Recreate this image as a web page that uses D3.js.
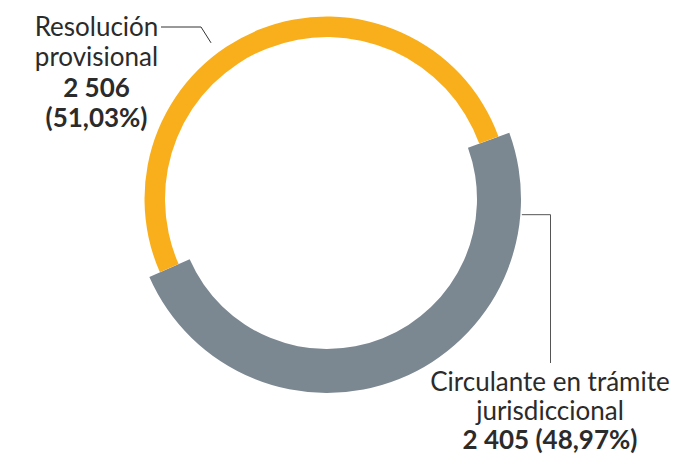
<!DOCTYPE html>
<html>
<head>
<meta charset="utf-8">
<script src="https://cdn.jsdelivr.net/npm/d3@7"></script>
<style>
  html, body { margin: 0; padding: 0; background: #fff; }
  svg { display: block; }
  text { font-family: Lato, 'Open Sans', sans-serif; fill: #2b2b2b; }
</style>
</head>
<body>
<svg id="chart" width="676" height="456"></svg>
<script>
const categories = ['Circulante en trámite jurisdiccional', 'Resolución provisional']
const values = [2405, 2506]
const valueLabels = ['2 405', '2 506']
const pctLabels = ['(48,97%)', '(51,03%)']
const colors = ['#7b8791', '#f9af1b']

const WIDTH = 676
const HEIGHT = 456
const CX = 327
const CY = 199
const START_DEG = 70

// each slice has its own ring thickness
const ringRadii = [
  { inner: 150, outer: 194 },
  { inner: 162, outer: 182.5 }
]

const deg = (d) => d * Math.PI / 180

const svg = d3.select('#chart')
const g = svg.append('g').attr('transform', `translate(${CX},${CY})`)

const pie = d3.pie()
  .sort(null)
  .value((d) => d)
  .startAngle(deg(START_DEG))
  .endAngle(deg(START_DEG + 360))

const arcs = pie(values)

g.selectAll('.slice')
  .data(arcs)
  .enter()
  .append('path')
  .attr('class', 'slice')
  .attr('fill', (d, i) => colors[i])
  .attr('d', (d, i) => {
    return d3.arc()
      .innerRadius(ringRadii[i].inner)
      .outerRadius(ringRadii[i].outer)(d)
  })

// point on a circle, angle measured clockwise from 12 o'clock
const polar = (angleDeg, r) => {
  const a = deg(angleDeg)
  return [CX + r * Math.sin(a), CY - r * Math.cos(a)]
}

// leader for "Resolución provisional"
const topEnd = polar(-36.6, 194.5)
const topPath = d3.path()
topPath.moveTo(161, 27)
topPath.lineTo(topEnd[0] - 10, 27)
topPath.lineTo(topEnd[0], topEnd[1])
svg.append('path')
  .attr('d', topPath.toString())
  .attr('fill', 'none')
  .attr('stroke', '#333')
  .attr('stroke-width', 1)

// leader for "Circulante en trámite jurisdiccional"
const rightStart = polar(94.6, 195.5)
const rightPath = d3.path()
rightPath.moveTo(rightStart[0], rightStart[1])
rightPath.lineTo(550.5, rightStart[1])
rightPath.lineTo(550.5, 363)
svg.append('path')
  .attr('d', rightPath.toString())
  .attr('fill', 'none')
  .attr('stroke', '#555')
  .attr('stroke-width', 1)

const FONT_SIZE = 26

const addLabel = (x, y, lines) => {
  const t = svg.append('text')
    .attr('x', x)
    .attr('y', y)
    .attr('text-anchor', 'middle')
    .style('font-size', `${FONT_SIZE}px`)
  lines.forEach((line, i) => {
    t.append('tspan')
      .attr('x', x)
      .attr('dy', i === 0 ? 0 : line.dy)
      .style('font-weight', line.bold ? 700 : 400)
      .text(line.text)
  })
}

addLabel(96.5, 36, [
  { text: 'Resolución' },
  { text: 'provisional', dy: 30 },
  { text: valueLabels[1], bold: true, dy: 31 },
  { text: pctLabels[1], bold: true, dy: 30 }
])

addLabel(550, 391, [
  { text: 'Circulante en trámite' },
  { text: 'jurisdiccional', dy: 29 },
  { text: `${valueLabels[0]} ${pctLabels[0]}`, bold: true, dy: 29 }
])
</script>
</body>
</html>
